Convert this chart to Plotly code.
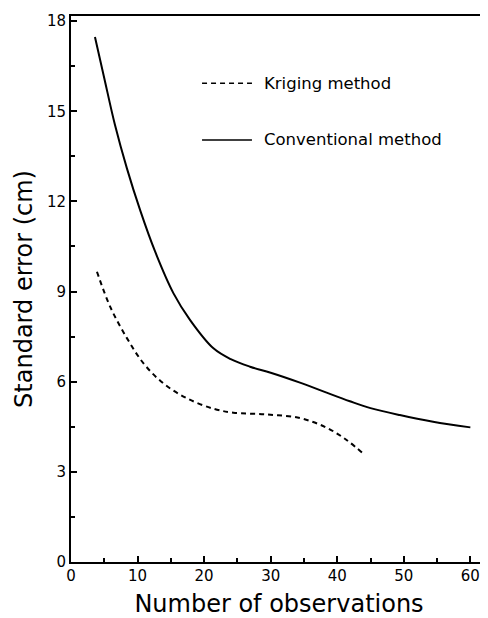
import plotly.graph_objects as go

# Data
conv_x = [3.6, 5.0, 6.6, 8.4, 10.4, 12.6, 15.4, 17.9, 21.4, 24.0, 26.9, 30.0, 34.4, 38.0, 41.9, 45.0, 49.4, 54.4, 60.0]
conv_y = [17.47, 16.1, 14.55, 13.1, 11.7, 10.35, 8.94, 8.05, 7.11, 6.75, 6.5, 6.3, 5.97, 5.67, 5.35, 5.12, 4.89, 4.67, 4.48]

krig_x = [3.9, 5.9, 8.4, 10.9, 13.9, 17.4, 21.4, 24.4, 29.4, 34.4, 38.4, 41.4, 44.0]
krig_y = [9.66, 8.49, 7.45, 6.61, 5.94, 5.45, 5.1, 4.97, 4.91, 4.79, 4.47, 4.06, 3.59]

x_ticks = [0, 10, 20, 30, 40, 50, 60]
y_ticks = [0, 3, 6, 9, 12, 15, 18]

series_names = ["Kriging method", "Conventional method"]
x_title = "Number of observations"
y_title = "Standard error (cm)"

FONT = "DejaVu Sans"

fig = go.Figure()
fig.add_trace(go.Scatter(x=krig_x, y=krig_y, mode="lines", name=series_names[0],
                         line=dict(color="black", width=2, dash="5px,4px", shape="spline", smoothing=1.0),
                         showlegend=False))
fig.add_trace(go.Scatter(x=conv_x, y=conv_y, mode="lines", name=series_names[1],
                         line=dict(color="black", width=2, shape="spline", smoothing=1.0),
                         showlegend=False))

# Manual legend (samples + labels)
leg = [
    (series_names[0], "5px,4px", 0.877),
    (series_names[1], "solid", 0.773),
]
for name, dash, yp in leg:
    fig.add_shape(type="line", xref="paper", yref="paper", x0=0.315, x1=0.435, y0=yp, y1=yp,
                  line=dict(color="black", width=1.5, dash=dash))
    fig.add_annotation(xref="paper", yref="paper", x=0.46, y=yp, text=name, showarrow=False,
                       xanchor="left", yanchor="middle",
                       font=dict(family=FONT, size=16.5, color="black"))

# The page body has an 8px margin, so the figure is sized to fit inside it
fig.update_layout(
    width=480, height=610,
    margin=dict(l=63, r=1, t=8, b=56),
    paper_bgcolor="white", plot_bgcolor="white",
    font=dict(family=FONT, color="black"),
    showlegend=False,
)
fig.update_xaxes(
    range=[0, 62.5], tickvals=x_ticks, ticks="inside", ticklen=6, tickwidth=1.5, tickcolor="black",
    minor=dict(dtick=5, tick0=0, ticks="inside", ticklen=4, tickwidth=1.5, tickcolor="black"),
    showline=True, linecolor="black", linewidth=2, mirror=True, showgrid=False, zeroline=False,
    automargin=False, ticklabelstandoff=-1,
    tickfont=dict(family=FONT, size=15, color="black"),
    title=dict(text=x_title, font=dict(family=FONT, size=24, color="black"), standoff=12),
)
fig.update_yaxes(
    range=[0, 18.17], tickvals=y_ticks, ticks="inside", ticklen=6, tickwidth=1.5, tickcolor="black",
    minor=dict(dtick=1.5, tick0=0, ticks="inside", ticklen=4, tickwidth=1.5, tickcolor="black"),
    showline=True, linecolor="black", linewidth=2, mirror=True, showgrid=False, zeroline=False,
    automargin=False,
    tickfont=dict(family=FONT, size=15, color="black"),
    title=dict(text=y_title, font=dict(family=FONT, size=24, color="black"), standoff=8),
)

fig.write_html("out.html")
